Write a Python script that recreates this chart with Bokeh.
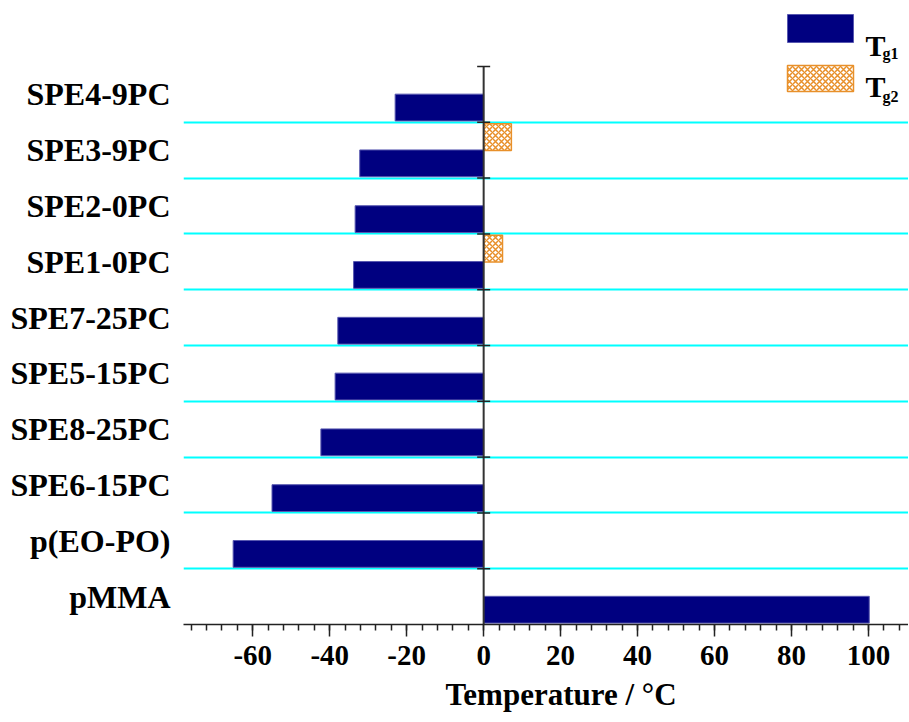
from bokeh.plotting import figure
from bokeh.models import (Range1d, FixedTicker, SingleIntervalTicker, Label, BoxAnnotation,
                          ColumnDataSource, Title)
from bokeh.transform import dodge
from bokeh.embed import file_html
from bokeh.resources import INLINE

# ---- data (bottom to top) ----
categories = ["pMMA", "p(EO-PO)", "SPE6-15PC", "SPE8-25PC", "SPE5-15PC",
              "SPE7-25PC", "SPE1-0PC", "SPE2-0PC", "SPE3-9PC", "SPE4-9PC"]
tg1 = [100.2, -65.1, -55.0, -42.3, -38.6, -37.9, -33.8, -33.4, -32.2, -23.0]
tg2_categories = ["SPE1-0PC", "SPE3-9PC"]
tg2 = [4.9, 7.2]
x_ticks = [-60, -40, -20, 0, 20, 40, 60, 80, 100]
x_title = "Temperature / °C"

FONT = "Liberation Serif"
NAVY = "#000080"
ORANGE = "#E8902A"

pos = list(range(len(categories)))
tg2_pos = [categories.index(c) for c in tg2_categories]
boundaries = [i + 0.5 for i in pos]

src1 = ColumnDataSource(dict(y=pos, right=tg1, left=[0] * len(tg1)))
src2 = ColumnDataSource(dict(y=tg2_pos, right=tg2, left=[0] * len(tg2)))

p = figure(width=908, height=722, output_backend="svg", toolbar_location=None,
           x_range=Range1d(-78, 110.4), y_range=Range1d(-0.5, 10.54),
           min_border_left=183, min_border_right=0, min_border_top=8, min_border_bottom=98)
p.outline_line_color = None
p.background_fill_color = "white"

# grid at category boundaries
p.xgrid.visible = False
p.ygrid.ticker = FixedTicker(ticks=boundaries[:-1])
p.ygrid.grid_line_color = "#00FFFF"
p.ygrid.grid_line_width = 2

# bars
p.hbar(y=dodge("y", -0.235, range=p.y_range), left="left", right="right", height=0.48,
       source=src1, fill_color=NAVY, line_color="#5858b0", line_width=1)
p.hbar(y=dodge("y", 0.235, range=p.y_range), left="left", right="right", height=0.48,
       source=src2, fill_color="white", line_color=ORANGE, line_width=1.5,
       hatch_pattern="diagonal_cross", hatch_color=ORANGE, hatch_scale=6, hatch_weight=1.5)

# vertical zero line with crossing ticks at boundaries
p.segment(x0=[0], x1=[0], y0=[-0.5], y1=[boundaries[-1]], line_color="#333333", line_width=2)
p.scatter(x=[0] * len(boundaries), y=boundaries, marker="dash", size=13,
          line_color="#222222", line_width=1.5)

# x axis
xa = p.xaxis[0]
xa.ticker = SingleIntervalTicker(interval=20, num_minor_ticks=5)
xa.major_label_overrides = {t: str(t) for t in x_ticks}
xa.axis_line_width = 1.5
xa.axis_line_color = "#222222"
xa.major_tick_line_color = "#222222"
xa.major_tick_line_width = 1.5
xa.major_tick_in = 0
xa.major_tick_out = 12
xa.minor_tick_line_color = "#222222"
xa.minor_tick_line_width = 1.5
xa.minor_tick_in = 0
xa.minor_tick_out = 6
xa.major_label_text_font = FONT
xa.major_label_text_font_style = "bold"
xa.major_label_text_font_size = "29px"
xa.major_label_text_color = "black"
xa.major_label_standoff = 9

# axis title, slightly right of centre as in the original
p.add_layout(Title(text=x_title, align="left", offset=262, standoff=14,
                   text_font=FONT, text_font_style="bold", text_font_size="31px",
                   text_color="black"), "below")

# y axis (category labels)
ya = p.yaxis[0]
ya.ticker = FixedTicker(ticks=pos)
ya.major_label_overrides = {i: c for i, c in enumerate(categories)}
ya.axis_line_color = None
ya.major_tick_line_color = None
ya.minor_tick_line_color = None
ya.major_label_text_font = FONT
ya.major_label_text_font_style = "bold"
ya.major_label_text_font_size = "32px"
ya.major_label_text_color = "black"
ya.major_label_standoff = 7

# legend (drawn as annotations in screen units)
p.add_layout(BoxAnnotation(left=604, right=670, top=610, bottom=582,
                           left_units="screen", right_units="screen",
                           top_units="screen", bottom_units="screen",
                           fill_color=NAVY, fill_alpha=1, line_color="#5858b0", line_width=1,
                           line_alpha=1))
p.add_layout(BoxAnnotation(left=604, right=670, top=559, bottom=533,
                           left_units="screen", right_units="screen",
                           top_units="screen", bottom_units="screen",
                           fill_color="white", fill_alpha=1, line_color=ORANGE, line_width=1.5,
                           line_alpha=1, hatch_pattern="diagonal_cross", hatch_color=ORANGE,
                           hatch_scale=6, hatch_weight=1.5, hatch_alpha=1))
for ty, sy, sub in [(579, 571, "g1"), (538, 528, "g2")]:
    p.add_layout(Label(x=682, y=ty, x_units="screen", y_units="screen", text="T",
                       text_font=FONT, text_font_style="bold", text_font_size="30px",
                       text_color="black", text_baseline="alphabetic"))
    p.add_layout(Label(x=699, y=sy, x_units="screen", y_units="screen", text=sub,
                       text_font=FONT, text_font_style="bold", text_font_size="16px",
                       text_color="black", text_baseline="alphabetic"))

open("out.html", "w").write(file_html(p, INLINE))
